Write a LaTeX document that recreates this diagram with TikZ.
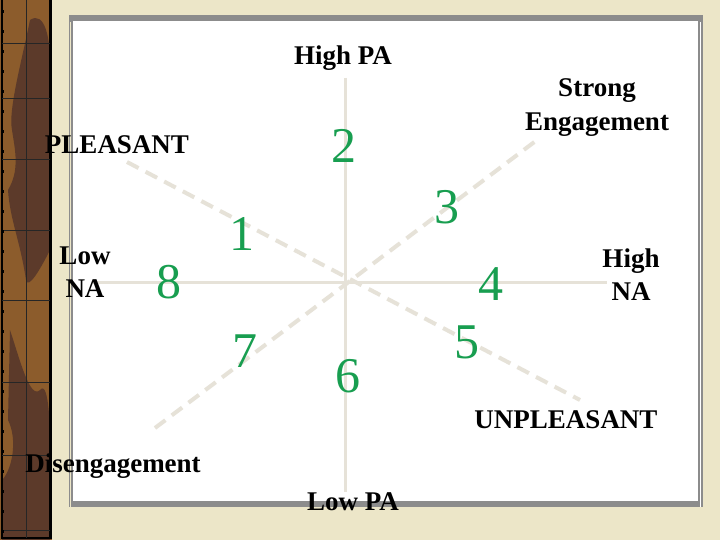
\documentclass[tikz,border=0pt]{standalone}
\usepackage{fontspec}
\setmainfont{Liberation Serif}
\definecolor{cream}{RGB}{236,230,200}
\definecolor{framegray}{RGB}{140,140,140}
\definecolor{axisgray}{RGB}{230,226,216}
\definecolor{numgreen}{RGB}{24,158,80}
\definecolor{brownA}{RGB}{140,92,44}
\definecolor{brownB}{RGB}{92,58,42}
\tikzset{
  lbl/.style={font=\fontsize{27}{31}\selectfont\bfseries, text=black, inner sep=0pt, anchor=base, align=center},
  num/.style={font=\fontsize{50}{50}\selectfont, text=numgreen, inner sep=0pt, anchor=base},
  axis/.style={draw=axisgray, line width=3pt},
  diag/.style={draw=axisgray, line width=4pt, dash pattern=on 13pt off 8pt},
  grid/.style={draw=black!85, line width=0.8pt}
}
\begin{document}
\begin{tikzpicture}[x=1pt,y=-1pt]
\useasboundingbox (0,0) rectangle (720,540);
% background
\fill[cream] (0,0) rectangle (720,540);
% left strip
\fill[brownA] (0,0) rectangle (52,540);
\fill[brownB] (30,20) .. controls (45,10) and (50,40) .. (50,60) -- (50,250) .. controls (40,270) and (28,290) .. (26,280) .. controls (20,240) and (10,220) .. (8,190) .. controls (20,170) and (15,150) .. (12,130) .. controls (8,110) and (22,60) .. (30,20) -- cycle;
\fill[brownB] (10,330) .. controls (20,360) and (30,400) .. (40,390) .. controls (48,380) and (50,420) .. (50,440) -- (50,540) -- (2,540) -- (2,480) .. controls (12,470) and (18,440) .. (8,420) -- cycle;
\draw[black, line width=2.5pt] (2,-2) rectangle (50.5,538);
\draw[grid] (26,0) -- (26,538);
\foreach \yy in {43,98,159,230,300,382,455,530} {\draw[grid] (2,\yy) -- (50,\yy);}
\foreach \yy in {10,30,...,530} {\fill[black] (1,\yy) rectangle (3.5,\yy+3); \fill[black] (49.5,\yy) rectangle (52,\yy+3);}
% frame
\fill[framegray] (69,15) rectangle (703,507);
\fill[white] (73,21) rectangle (698,501);
\draw[white, line width=1.2pt] (700.3,22) -- (700.3,507);
\draw[cream, line width=1.2pt] (70.8,22) -- (70.8,507);
% axes
\coordinate (vt) at (345,78);
\coordinate (vb) at (345,492);
\coordinate (hl) at (93,282);
\coordinate (hr) at (607,282);
\coordinate (pl) at (127,162);
\coordinate (un) at (580,400);
\coordinate (di) at (155,428);
\coordinate (se) at (537,140);
\draw[axis] (vt) -- (vb);
\draw[axis] (hl) -- (hr);
\draw[diag] (pl) -- (un);
\draw[diag] (di) -- (se);
% labels
\node[lbl] (highpa) at (343,65) {High PA};
\node[lbl] (strong) at (597,97) {Strong};
\node[lbl] (engage) at (597,131) {Engagement};
\node[lbl] (pleas) at (117,154) {PLEASANT};
\node[lbl] (low1) at (85,264) {Low};
\node[lbl] (na1) at (85,297) {NA};
\node[lbl] (high2) at (631,267) {High};
\node[lbl] (na2) at (631,300) {NA};
\node[lbl] (unpl) at (566,428) {UNPLEASANT};
\node[lbl] (diseng) at (113,472) {Disengagement};
\node[lbl] (lowpa) at (353,510) {Low PA};
% numbers
\node[num] (n2) at (344,163) {2};
\node[num] (n3) at (447,224) {3};
\node[num] (n1) at (242,250) {1};
\node[num] (n8) at (169,298) {8};
\node[num] (n4) at (491,300) {4};
\node[num] (n7) at (245,367) {7};
\node[num] (n6) at (348,392) {6};
\node[num] (n5) at (467,358) {5};
\end{tikzpicture}
\end{document}
